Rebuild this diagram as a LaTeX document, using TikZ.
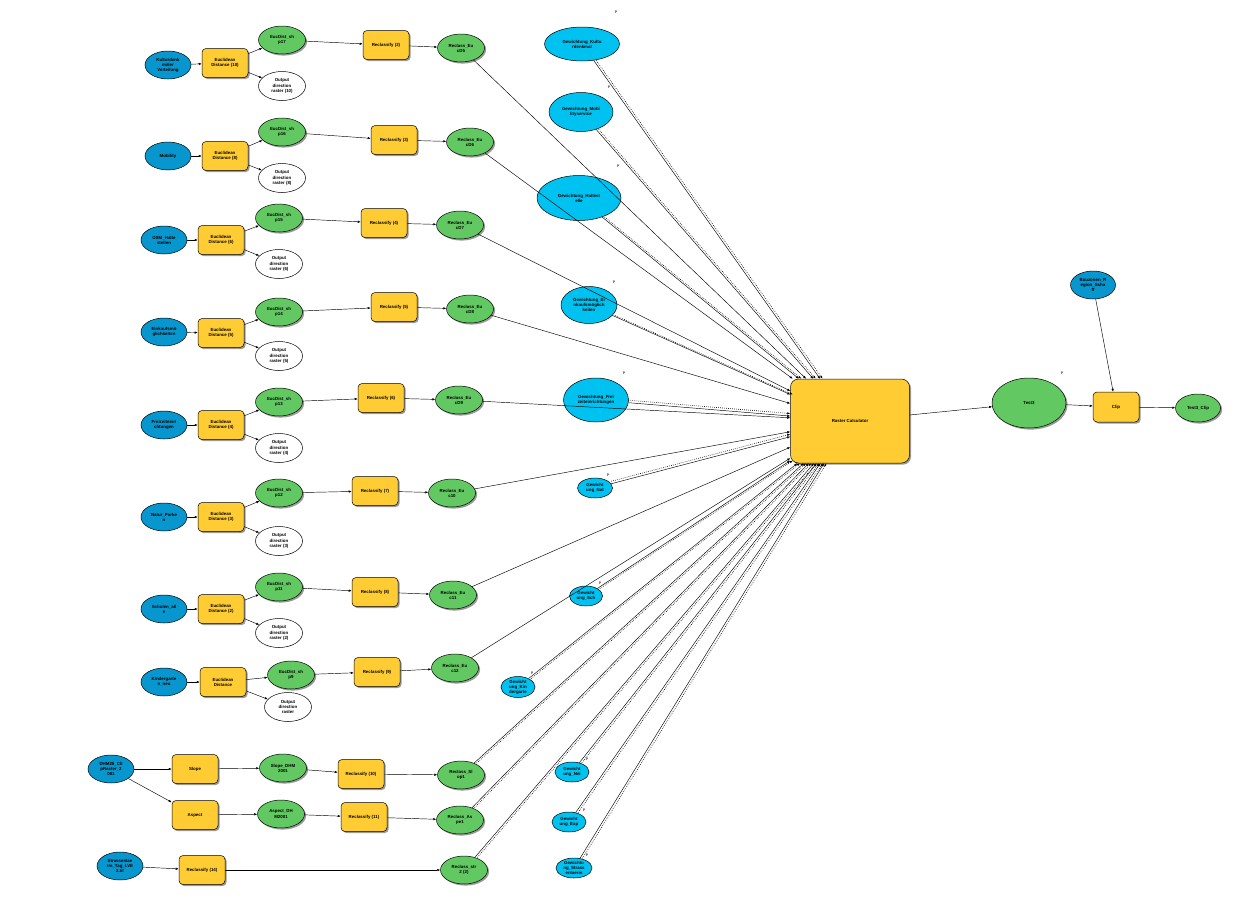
\documentclass[tikz,border=0pt]{standalone}
\usepackage{fontspec}
\setsansfont{Liberation Sans}
\usetikzlibrary{shapes.geometric,arrows.meta,shadows}
\definecolor{inblue}{RGB}{8,150,206}
\definecolor{pcyan}{RGB}{0,194,240}
\definecolor{tyellow}{RGB}{255,204,51}
\definecolor{dgreen}{RGB}{98,200,98}
\tikzset{
  base/.style={draw=black, line width=0.5pt, align=center, inner sep=0pt,
    font=\sffamily\bfseries\fontsize{4.4}{5.1}\selectfont},
  shad/.style={drop shadow={shadow xshift=1.6pt, shadow yshift=-1.6pt, fill=black!40, opacity=1}},
  inp/.style={base, ellipse, fill=inblue, minimum width=46pt, minimum height=28pt},
  tool/.style={base, rounded corners=4pt, fill=tyellow, minimum width=46pt, minimum height=29pt, shad},
  dat/.style={base, ellipse, fill=dgreen, minimum width=47pt, minimum height=28pt, shad},
  outd/.style={base, ellipse, fill=white, minimum width=47pt, minimum height=29pt},
  par/.style={base, ellipse, fill=pcyan},
  lnk/.style={-{Latex[length=3pt,width=2.4pt]}, line width=0.45pt},
  dl/.style={lnk, dash pattern=on 0.7pt off 1.3pt, line width=0.6pt},
  plab/.style={inner sep=0pt, font=\sffamily\bfseries\fontsize{3.6}{4}\selectfont, text=black!75}
}
\begin{document}
\catcode`\_=12
\begin{tikzpicture}[x=1pt,y=-1pt]
\useasboundingbox[fill=white] (0,0) rectangle (1260,905);

% ---------- row 1
\node[inp]  (b1) at (168,65) {Kulturdenk\\mäler\\Verteilung};
\node[tool] (e1) at (225,63) {Euclidean\\Distance (10)};
\node[dat]  (d1) at (282,40) {EucDist_sh\\p17};
\node[outd] (o1) at (282,86) {Output\\direction\\raster (10)};
\node[tool] (c1) at (386,45) {Reclassify (2)};
\node[dat]  (r1) at (461,48) {Reclass_Eu\\cD5};
% ---------- row 2
\node[inp]  (b2) at (168,156) {Mobility};
\node[tool] (e2) at (225,156) {Euclidean\\Distance (8)};
\node[dat]  (d2) at (282,132) {EucDist_sh\\p16};
\node[outd] (o2) at (282,178) {Output\\direction\\raster (8)};
\node[tool] (c2) at (394,140) {Reclassify (3)};
\node[dat]  (r2) at (470,142) {Reclass_Eu\\cD6};
% ---------- row 3
\node[inp]  (b3) at (164,240) {OSM_Halte\\stellen};
\node[tool] (e3) at (221,240) {Euclidean\\Distance (6)};
\node[dat]  (d3) at (279,218) {EucDist_sh\\p15};
\node[outd] (o3) at (279,264) {Output\\direction\\raster (6)};
\node[tool] (c3) at (384,223) {Reclassify (4)};
\node[dat]  (r3) at (460,225) {Reclass_Eu\\cD7};
% ---------- row 4
\node[inp]  (b4) at (164,332) {Einkaufsmö\\glichkeiten};
\node[tool] (e4) at (221,333) {Euclidean\\Distance (5)};
\node[dat]  (d4) at (279,312) {EucDist_sh\\p14};
\node[outd] (o4) at (279,356) {Output\\direction\\raster (5)};
\node[tool] (c4) at (394,307) {Reclassify (5)};
\node[dat]  (r4) at (470,309) {Reclass_Eu\\cD8};
% ---------- row 5
\node[inp]  (b5) at (164,425) {Freizeiteinri\\chtungen};
\node[tool] (e5) at (221,425) {Euclidean\\Distance (4)};
\node[dat]  (d5) at (279,402) {EucDist_sh\\p13};
\node[outd] (o5) at (279,448) {Output\\direction\\raster (4)};
\node[tool] (c5) at (381,398) {Reclassify (6)};
\node[dat]  (r5) at (459,400) {Reclass_Eu\\cD9};
% ---------- row 6
\node[inp]  (b6) at (164,517) {Natur_Parke\\n};
\node[tool] (e6) at (221,517) {Euclidean\\Distance (3)};
\node[dat]  (d6) at (279,493) {EucDist_sh\\p12};
\node[outd] (o6) at (279,541) {Output\\direction\\raster (3)};
\node[tool] (c6) at (375,491) {Reclassify (7)};
\node[dat]  (r6) at (452,493) {Reclass_Eu\\c10};
% ---------- row 7
\node[inp]  (b7) at (164,609) {Schulen_all\\e};
\node[tool] (e7) at (221,609) {Euclidean\\Distance (2)};
\node[dat]  (d7) at (279,587) {EucDist_sh\\p11};
\node[outd] (o7) at (279,633) {Output\\direction\\raster (2)};
\node[tool] (c7) at (375,592) {Reclassify (8)};
\node[dat]  (r7) at (453,595) {Reclass_Eu\\c11};
% ---------- row 8
\node[inp]  (b8) at (164,682) {Kindergarte\\n_neu};
\node[tool] (e8) at (223,682) {Euclidean\\Distance};
\node[dat]  (d8) at (291,675) {EucDist_sh\\p9};
\node[outd] (o8) at (288,707) {Output\\direction\\raster};
\node[tool] (c8) at (377,672) {Reclassify (9)};
\node[dat]  (r8) at (455,668) {Reclass_Eu\\c12};
% ---------- bottom
\node[inp]  (dhm) at (111,769) {DHM25_Cli\\pRaster_2\\001};
\node[tool] (slp) at (195,769) {Slope};
\node[dat]  (sld) at (283,768) {Slope_DHM\\2001};
\node[tool] (c10) at (361,774) {Reclassify (10)};
\node[dat]  (rsl) at (461,775) {Reclass_Sl\\op1};
\node[tool] (asp) at (195,815) {Aspect};
\node[dat]  (asd) at (281,814) {Aspect_DH\\M2001};
\node[tool] (c11) at (364,817) {Reclassify (11)};
\node[dat]  (ras) at (460,820) {Reclass_As\\pe1};
\node[inp]  (str) at (120,866) {Strassenlae\\rm_Tag_LVE\\2.tif};
\node[tool] (c14) at (202,870) {Reclassify (14)};
\node[dat]  (rst) at (464,870) {Reclass_str\\2 (2)};

% ---------- parameters
\node[par, minimum width=75pt, minimum height=34pt] (g1) at (582,44) {Gewichtung_Kultu\\rdenkmal};
\node[par, minimum width=64pt, minimum height=39pt] (g2) at (581,112) {Gewichtung_Mobi\\lityservice};
\node[par, minimum width=84pt, minimum height=45pt] (g3) at (579,198) {Gewichtung_Haltest\\elle};
\node[par, minimum width=56pt, minimum height=37pt] (g4) at (589,305) {Gewichtung_Ei\\nkaufsmöglich\\keiten};
\node[par, minimum width=65pt, minimum height=44pt] (g5) at (596,400) {Gewichtung_Frei\\zeiteinrichtungen};
\node[par, minimum width=35pt, minimum height=20pt] (g6) at (595,488) {Gewicht\\ung_Nat};
\node[par, minimum width=33pt, minimum height=20pt] (g7) at (586,596) {Gewicht\\ung_Sch};
\node[par, minimum width=34pt, minimum height=21pt] (g8) at (518,687) {Gewicht\\ung_Kin\\dergarte};
\node[par, minimum width=34pt, minimum height=20pt] (g9) at (572,772) {Gewicht\\ung_Nei};
\node[par, minimum width=34pt, minimum height=20pt] (g10) at (569,822) {Gewicht\\ung_Exp};
\node[par, minimum width=36pt, minimum height=20pt] (g11) at (574,868) {Gewichtu\\ng_Strass\\enlaerm};

\node[plab] (p1) at (616,12) {P};
\node[plab] (p2) at (609,87) {P};
\node[plab] (p3) at (618,166) {P};
\node[plab] (p4) at (614,282) {P};
\node[plab] (p5) at (624,373) {P};
\node[plab] (p6) at (608,475) {P};
\node[plab] (p7) at (600,583) {P};
\node[plab] (p8) at (532,673) {P};
\node[plab] (p9) at (587,759) {P};
\node[plab] (p10) at (584,810) {P};
\node[plab] (p11) at (587,855) {P};
\node[plab] (p12) at (1062,373) {P};

% ---------- right side
\node[tool, rounded corners=8pt, minimum width=119pt, minimum height=84pt] (rc) at (850,421) {Raster Calculator};
\node[dat, minimum width=74pt, minimum height=50pt] (t3) at (1029,403) {Test3};
\node[tool, minimum width=46pt, minimum height=30pt] (clip) at (1116,407) {Clip};
\node[dat, minimum width=45pt, minimum height=28pt] (t3c) at (1198,408) {Test3_Clip};
\node[inp, minimum width=45pt, minimum height=28pt] (bz) at (1093,285) {Bauzonen_R\\egion_Scha\\ff};

% ---------- connectors, left rows
\foreach \i in {1,...,8}{
  \draw[lnk] (b\i) -- (e\i);
  \draw[lnk] (e\i) -- (d\i);
  \draw[lnk] (e\i) -- (o\i);
  \draw[lnk] (d\i) -- (c\i);
  \draw[lnk] (c\i) -- (r\i);
  \draw[lnk] (r\i) -- (rc);
}
\draw[lnk] (dhm) -- (slp);
\draw[lnk] (dhm) -- (asp);
\draw[lnk] (slp) -- (sld);
\draw[lnk] (sld) -- (c10);
\draw[lnk] (c10) -- (rsl);
\draw[lnk] (asp) -- (asd);
\draw[lnk] (asd) -- (c11);
\draw[lnk] (c11) -- (ras);
\draw[lnk] (str) -- (c14);
\draw[lnk] (c14) -- (rst);
\foreach \n in {rsl,ras,rst}{
  \draw[lnk] (\n) -- (rc);
  \draw[dl, transform canvas={xshift=2.5pt}] (\n) -- (rc);
}
% ---------- parameter connectors
\foreach \n in {g1,g2,g3,g4}{
  \draw[lnk] (\n) -- (rc);
  \draw[dl, transform canvas={xshift=2.5pt}] (\n) -- (rc);
}
\foreach \n in {g5,g6}{
  \draw[lnk] (\n) -- (rc);
  \draw[dl, transform canvas={yshift=2.5pt}] (\n) -- (rc);
}
\foreach \n in {g7,g8,g9,g10,g11}{
  \draw[lnk] (\n) -- (rc);
  \draw[dl, transform canvas={xshift=2.5pt}] (\n) -- (rc);
}
% ---------- right connectors
\draw[lnk] (rc) -- (t3);
\draw[lnk] (t3) -- (clip);
\draw[lnk] (bz) -- (clip);
\draw[lnk] (clip) -- (t3c);
\end{tikzpicture}
\end{document}
